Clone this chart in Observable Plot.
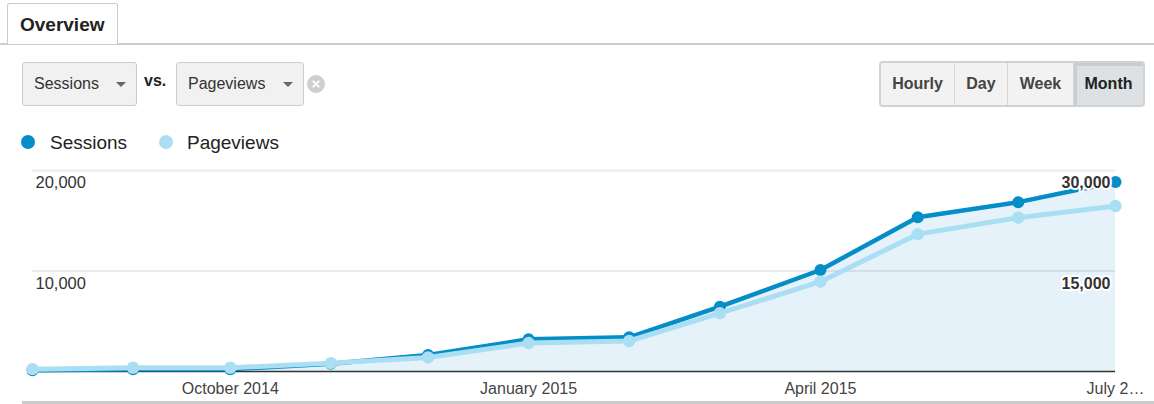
<!DOCTYPE html>
<html>
<head>
<meta charset="utf-8">
<script src="https://cdn.jsdelivr.net/npm/d3@7"></script>
<script src="https://cdn.jsdelivr.net/npm/@observablehq/plot@0.6"></script>
<style>
  html, body { margin: 0; padding: 0; background: #fff; }
  body { width: 1154px; height: 404px; position: relative; overflow: hidden; font-family: "Liberation Sans", Arial, sans-serif; color: #333; }
  .abs { position: absolute; }
  .tab { left: 7px; top: 3px; width: 111px; height: 41px; border: 1.5px solid #ccc; border-bottom: none; border-radius: 3px 3px 0 0; background: #fff; box-sizing: border-box; z-index: 2; }
  .tab span { position: absolute; left: 12px; top: 10px; font-size: 19px; font-weight: bold; color: #222; }
  .tabline { left: 0; top: 43px; width: 1154px; height: 1.5px; background: #ccc; }
  .dd { top: 62px; height: 44px; border: 1px solid #ccc; border-radius: 3px; background: #f1f1f1; box-sizing: border-box; }
  .dd span { position: absolute; left: 11px; top: 12px; font-size: 16px; color: #333; }
  .arrow { position: absolute; top: 19px; width: 0; height: 0; border-left: 5px solid transparent; border-right: 5px solid transparent; border-top: 5px solid #666; }
  .vs { left: 144px; top: 72px; font-size: 16px; font-weight: bold; color: #222; }
  .xicon { left: 307px; top: 75px; width: 18px; height: 18px; border-radius: 50%; background: #cfcfcf; color: #fff; font-size: 15px; font-weight: bold; line-height: 18px; text-align: center; }
  .btns { left: 879px; top: 61px; width: 266px; height: 46px; border: 2px solid #d2d2d2; border-radius: 4px; box-sizing: border-box; background: #f2f2f2; display: flex; overflow: hidden; }
  .btn { height: 100%; box-sizing: border-box; font-size: 16px; font-weight: bold; color: #444; display: flex; align-items: center; justify-content: center; border-right: 1px solid #d6d6d6; }
  .btn.sel { border-right: none; background: #dde1e4; color: #222; box-shadow: inset 3px 3px 0 #c9cdd0; }
  .legend { top: 132px; font-size: 19px; color: #222; }
  .ldot { width: 14px; height: 14px; border-radius: 50%; }
  .bottombar { left: 22px; top: 401px; width: 1132px; height: 3px; background: #cbcbcb; }
  #chart { position: absolute; left: 0; top: 160px; }
</style>
</head>
<body>
<div class="abs tabline"></div>
<div class="abs tab"><span>Overview</span></div>

<div class="abs dd" style="left:22px;width:115px;"><span>Sessions</span><div class="arrow" style="left:93px;"></div></div>
<div class="abs vs">vs.</div>
<div class="abs dd" style="left:176px;width:128px;"><span>Pageviews</span><div class="arrow" style="left:106px;"></div></div>
<div class="abs xicon">×</div>

<div class="abs btns">
  <div class="btn" style="width:74px;">Hourly</div>
  <div class="btn" style="width:53px;">Day</div>
  <div class="btn" style="width:66px;">Week</div>
  <div class="btn sel" style="width:69px;">Month</div>
</div>

<div class="abs ldot" style="left:21px;top:135px;background:#058dc7;"></div>
<div class="abs legend" style="left:50px;">Sessions</div>
<div class="abs ldot" style="left:159px;top:135px;background:#aadff3;"></div>
<div class="abs legend" style="left:187px;">Pageviews</div>

<div id="chart"></div>
<div class="abs bottombar"></div>

<script>
// ---- data ----
const months = ["2014-08-01","2014-09-01","2014-10-01","2014-11-01","2014-12-01","2015-01-01","2015-02-01","2015-03-01","2015-04-01","2015-05-01","2015-06-01","2015-07-01"];
const sessions = [120, 220, 230, 780, 1640, 3200, 3400, 6450, 10100, 15350, 16850, 18850];
const pageviews = [350, 560, 560, 1250, 2100, 4250, 4550, 8700, 13400, 20500, 22950, 24700];
const xTickDates = ["2014-10-01","2015-01-01","2015-04-01","2015-07-01"];
const xTickLabels = ["October 2014","January 2015","April 2015","July 2…"];
const leftTicks = [10000, 20000];
const rightTicks = [15000, 30000];
const leftMax = 20000, rightMax = 30000;

// ---- build ----
const parse = d3.utcParse("%Y-%m-%d");
const rows = months.map((m, i) => ({date: parse(m), sessions: sessions[i], pageviews: pageviews[i]}));
const ratio = leftMax / rightMax;
const startDate = rows[0].date, endDate = rows[rows.length - 1].date;
const tickDates = xTickDates.map(parse);
const labelOf = new Map(tickDates.map((d, i) => [+d, xTickLabels[i]]));
const fmt = d3.format(",");

const chart = Plot.plot({
  width: 1154,
  height: 244,
  marginTop: 10,
  marginBottom: 33,
  marginLeft: 32,
  marginRight: 39,
  style: {fontFamily: "'Liberation Sans', Arial, sans-serif", fontSize: "16px", background: "transparent"},
  x: {type: "utc", domain: [startDate, endDate]},
  y: {domain: [0, leftMax], axis: null},
  marks: [
    Plot.areaY(rows, {x: "date", y: "sessions", fill: "#e6f2f9"}),
    Plot.ruleY(leftTicks, {x1: startDate, x2: endDate, stroke: "#000", strokeOpacity: 0.08, strokeWidth: 2}),
    Plot.ruleY([0], {x1: startDate, x2: endDate, stroke: "#333", strokeWidth: 1.5}),
    Plot.axisX({ticks: tickDates, tickFormat: d => labelOf.get(+d), tickSize: 0, tickPadding: 11, fontSize: 16, color: "#444"}),
    Plot.line(rows, {x: "date", y: "sessions", stroke: "#058dc7", strokeWidth: 4.5}),
    Plot.dot(rows, {x: "date", y: "sessions", r: 6, fill: "#058dc7"}),
    Plot.line(rows, {x: "date", y: d => d.pageviews * ratio, stroke: "#aadff3", strokeWidth: 5}),
    Plot.dot(rows, {x: "date", y: d => d.pageviews * ratio, r: 6.2, fill: "#aadff3"}),
    Plot.text(leftTicks, {x: () => startDate, y: d => d, text: d => fmt(d), textAnchor: "start", dx: 3, dy: 12.5, fontSize: 16.5, fill: "#333"}),
    Plot.text(rightTicks, {x: () => endDate, y: d => d * ratio, text: d => fmt(d), textAnchor: "end", dx: -5, dy: 12.5, fontSize: 16, fontWeight: "bold", fill: "#333", stroke: "#fff", strokeWidth: 4})
  ]
});
document.getElementById("chart").appendChild(chart);
</script>
</body>
</html>
